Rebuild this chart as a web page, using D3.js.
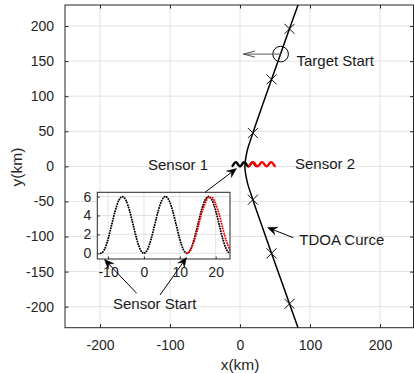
<!DOCTYPE html>
<html>
<head>
<meta charset="utf-8">
<script src="https://cdn.jsdelivr.net/npm/d3@7"></script>
<style>
  body { margin: 0; background: #fff; }
  svg { display: block; font-family: "Liberation Sans", Arial, Helvetica, sans-serif; }
</style>
</head>
<body>
<svg id="chart" width="414" height="373"></svg>
<script>
// main axes ticks
const xTicks = [-200, -100, 0, 100, 200];
const yTicks = [-200, -150, -100, -50, 0, 50, 100, 150, 200];

// TDOA curve (km)
const tdoaX = [82.9, 70.7, 57.9, 45.4, 36.6, 29.6, 22.6, 18.4, 12.5, 9.8, 7.9, 7, 7.9, 9.8, 12.5, 18.4, 22.6, 29.6, 36.6, 45.4, 57.9, 70.7, 82.9];
const tdoaY = [230, 196, 160, 125, 100, 80, 60, 47.5, 30, 20, 10, 0, -10, -20, -30, -47.5, -60, -80, -100, -125, -160, -196, -230];

// x markers on the curve
const markX = [70.7, 45, 18.4, 18.4, 45, 70.7];
const markY = [196, 124, 47.5, -47.5, -124, -196];

// target start
const targetX = 58, targetY = 160;

// sensor tracks (km)
const s1X = [-12, -11, -10, -9, -8, -7, -6, -5, -4, -3, -2, -1, 0, 1, 2, 3, 4, 5, 6, 7, 8, 9, 10, 11, 12, 13, 14, 15, 16, 17, 18, 19, 20, 21, 22, 23, 24];
const s1Y = [0, 0.4, 1.5, 3, 4.5, 5.6, 6, 5.6, 4.5, 3, 1.5, 0.4, 0, 0.4, 1.5, 3, 4.5, 5.6, 6, 5.6, 4.5, 3, 1.5, 0.4, 0, 0.4, 1.5, 3, 4.5, 5.6, 6, 5.6, 4.5, 3, 1.5, 0.4, 0];
const s2X = [12, 13, 14, 15, 16, 17, 18, 19, 20, 21, 22, 23, 24, 25, 26, 27, 28, 29, 30, 31, 32, 33, 34, 35, 36, 37, 38, 39, 40, 41, 42, 43, 44, 45, 46, 47, 48, 49, 50, 51];
const s2Y = [0, 0.35, 1.3, 2.6, 4.1, 5.2, 5.9, 5.9, 5.2, 4.1, 2.6, 1.3, 0.35, 0, 0.35, 1.3, 2.6, 4.1, 5.2, 5.9, 5.9, 5.2, 4.1, 2.6, 1.3, 0.35, 0, 0.35, 1.3, 2.6, 4.1, 5.2, 5.9, 5.9, 5.2, 4.1, 2.6, 1.3, 0.35, 0];

// inset ticks
const inXTicks = [-10, 0, 10, 20];
const inYTicks = [0, 2, 4, 6];

const svg = d3.select("#chart");
const axisColor = "#262626", gridColor = "#e3e3e3";
const fmt = d => String(d);

const x = d3.scaleLinear().domain([-250, 250]).range([65, 415]);
const y = d3.scaleLinear().domain([-230, 230]).range([327.7, 5]);

const defs = svg.append("defs");
defs.append("clipPath").attr("id", "mainClip")
  .append("rect").attr("x", 65).attr("y", 5).attr("width", 350).attr("height", 322.7);

// grid
const grid = svg.append("g");
grid.selectAll(".gx").data(xTicks).enter().append("line")
  .attr("x1", d => x(d)).attr("x2", d => x(d)).attr("y1", 5).attr("y2", 327.7)
  .attr("stroke", gridColor);
grid.selectAll(".gy").data(yTicks).enter().append("line")
  .attr("x1", 65).attr("x2", 415).attr("y1", d => y(d)).attr("y2", d => y(d))
  .attr("stroke", gridColor);

// axes (ticks inside, on all four sides)
const tk = 3.5;
svg.append("g").attr("transform", "translate(0,327.7)")
  .call(d3.axisBottom(x).tickValues(xTicks).tickFormat(fmt).tickSizeInner(-tk).tickSizeOuter(0).tickPadding(12))
  .call(g => g.select(".domain").remove());
svg.append("g").attr("transform", "translate(0,5)")
  .call(d3.axisTop(x).tickValues(xTicks).tickSizeInner(-tk).tickSizeOuter(0).tickFormat(""))
  .call(g => g.select(".domain").remove());
svg.append("g").attr("transform", "translate(65,0)")
  .call(d3.axisLeft(y).tickValues(yTicks).tickFormat(fmt).tickSizeInner(-tk).tickSizeOuter(0).tickPadding(11))
  .call(g => g.select(".domain").remove());
svg.append("g").attr("transform", "translate(413.5,0)")
  .call(d3.axisRight(y).tickValues(yTicks).tickSizeInner(-tk).tickSizeOuter(0).tickFormat(""))
  .call(g => g.select(".domain").remove());
svg.selectAll(".tick line").attr("stroke", axisColor);
svg.selectAll(".tick text").attr("fill", axisColor).style("font-size", "14px")
  .style("font-family", "'Liberation Sans', Arial, sans-serif");
svg.append("rect").attr("x", 65).attr("y", 5).attr("width", 348.5).attr("height", 322.7)
  .attr("fill", "none").attr("stroke", axisColor);

// axis labels
svg.append("text").attr("x", 240).attr("y", 370).attr("text-anchor", "middle")
  .attr("fill", axisColor).style("font-size", "15.5px").text("x(km)");
svg.append("text").attr("transform", "translate(22,167) rotate(-90)").attr("text-anchor", "middle")
  .attr("fill", axisColor).style("font-size", "15.5px").text("y(km)");

// TDOA curve
const plot = svg.append("g").attr("clip-path", "url(#mainClip)");
const tdoa = tdoaX.map((d, i) => [d, tdoaY[i]]);
plot.append("path").datum(tdoa)
  .attr("d", d3.line().x(d => x(d[0])).y(d => y(d[1])).curve(d3.curveNatural))
  .attr("fill", "none").attr("stroke", "#000").attr("stroke-width", 1.5);

// x markers
const ms = 5;
const marks = markX.map((d, i) => [x(d), y(markY[i])]);
plot.selectAll(".mk").data(marks).enter().append("path")
  .attr("d", d => `M${d[0] - ms},${d[1] - ms}L${d[0] + ms},${d[1] + ms}M${d[0] - ms},${d[1] + ms}L${d[0] + ms},${d[1] - ms}`)
  .attr("stroke", "#111").attr("stroke-width", 1).attr("fill", "none");

// target start circle
svg.append("circle").attr("cx", x(targetX)).attr("cy", y(targetY)).attr("r", 7.8)
  .attr("fill", "none").attr("stroke", "#000").attr("stroke-width", 1);

// sensor tracks in main axes
const s1 = s1X.map((d, i) => [d, s1Y[i]]);
const s2 = s2X.map((d, i) => [d, s2Y[i]]);
const mainLine = d3.line().x(d => x(d[0])).y(d => y(d[1])).curve(d3.curveMonotoneX);
plot.append("path").datum(s1).attr("d", mainLine)
  .attr("fill", "none").attr("stroke", "#000").attr("stroke-width", 2.3);
plot.append("path").datum(s2).attr("d", mainLine)
  .attr("fill", "none").attr("stroke", "#f00").attr("stroke-width", 2.3);

// inset
const ix = d3.scaleLinear().domain([-13, 24]).range([97.3, 230]);
const iy = d3.scaleLinear().domain([-0.6, 6.45]).range([259, 192.3]);
defs.append("clipPath").attr("id", "inClip")
  .append("rect").attr("x", 97.3).attr("y", 192.3).attr("width", 132.7).attr("height", 66.7);
const inset = svg.append("g");
inset.append("rect").attr("x", 97.3).attr("y", 192.3).attr("width", 132.7).attr("height", 66.7)
  .attr("fill", "#fff");
inset.selectAll(".igx").data(inXTicks).enter().append("line")
  .attr("x1", d => ix(d)).attr("x2", d => ix(d)).attr("y1", 192.3).attr("y2", 259)
  .attr("stroke", gridColor);
inset.selectAll(".igy").data(inYTicks).enter().append("line")
  .attr("x1", 97.3).attr("x2", 230).attr("y1", d => iy(d)).attr("y2", d => iy(d))
  .attr("stroke", gridColor);
inset.append("g").attr("transform", "translate(0,259)")
  .call(d3.axisBottom(ix).tickValues(inXTicks).tickFormat(fmt).tickSizeInner(-2.5).tickSizeOuter(0).tickPadding(8))
  .call(g => g.select(".domain").remove());
inset.append("g").attr("transform", "translate(97.3,0)")
  .call(d3.axisLeft(iy).tickValues(inYTicks).tickFormat(fmt).tickSizeInner(-2.5).tickSizeOuter(0).tickPadding(6))
  .call(g => g.select(".domain").remove());
inset.selectAll(".tick line").attr("stroke", axisColor);
inset.selectAll(".tick text").attr("fill", axisColor).style("font-size", "14px")
  .style("font-family", "'Liberation Sans', Arial, sans-serif");

const inLine = d3.line().x(d => ix(d[0])).y(d => iy(d[1])).curve(d3.curveMonotoneX);
const inPlot = inset.append("g").attr("clip-path", "url(#inClip)");
inPlot.append("path").datum(s1).attr("d", inLine)
  .attr("fill", "none").attr("stroke", "#000").attr("stroke-width", 2)
  .attr("stroke-linecap", "round").attr("stroke-dasharray", "0 2.5");
inPlot.append("path").datum(s2).attr("d", inLine)
  .attr("fill", "none").attr("stroke", "#f00").attr("stroke-width", 2)
  .attr("stroke-linecap", "round").attr("stroke-dasharray", "0 2.5");
inset.append("rect").attr("x", 97.3).attr("y", 192.3).attr("width", 132.7).attr("height", 66.7)
  .attr("fill", "none").attr("stroke", axisColor);

// annotation arrows
function arrow(x0, y0, x1, y1, color) {
  const dx = x1 - x0, dy = y1 - y0, len = Math.hypot(dx, dy);
  const ux = dx / len, uy = dy / len, nx = -uy, ny = ux;
  const L = 9.5, W = 4;
  const bx = x1 - L * ux, by = y1 - L * uy;
  const cx = x1 - 0.65 * L * ux, cy = y1 - 0.65 * L * uy;
  svg.append("line").attr("x1", x0).attr("y1", y0).attr("x2", cx).attr("y2", cy)
    .attr("stroke", color).attr("stroke-width", 1);
  svg.append("path")
    .attr("d", `M${x1},${y1}L${bx + W * nx},${by + W * ny}L${cx},${cy}L${bx - W * nx},${by - W * ny}Z`)
    .attr("fill", color).attr("stroke", color).attr("stroke-width", 0.5);
}
arrow(205, 192.3, 236.5, 168.5, "#000");
arrow(136.7, 293.3, 104.5, 259.5, "#000");
arrow(160, 295, 186.5, 257.5, "#000");
arrow(293.3, 237.7, 267.5, 227.5, "#000");

// target start arrow (open head)
const ty = y(targetY);
svg.append("path")
  .attr("d", `M${x(targetX)},${ty}L243.3,${ty}M255,${ty - 3}L243.3,${ty}L255,${ty + 3}`)
  .attr("fill", "none").attr("stroke", "#555").attr("stroke-width", 1);

// annotation text
const notes = [
  ["Sensor 1", 148, 169.5],
  ["Sensor 2", 295, 169],
  ["Target Start", 296.5, 65.5],
  ["TDOA Curce", 299.3, 245],
  ["Sensor Start", 113, 309]
];
svg.selectAll(".note").data(notes).enter().append("text")
  .attr("x", d => d[1]).attr("y", d => d[2])
  .attr("fill", "#1a1a1a").style("font-size", "15px")
  .text(d => d[0]);
</script>
</body>
</html>
